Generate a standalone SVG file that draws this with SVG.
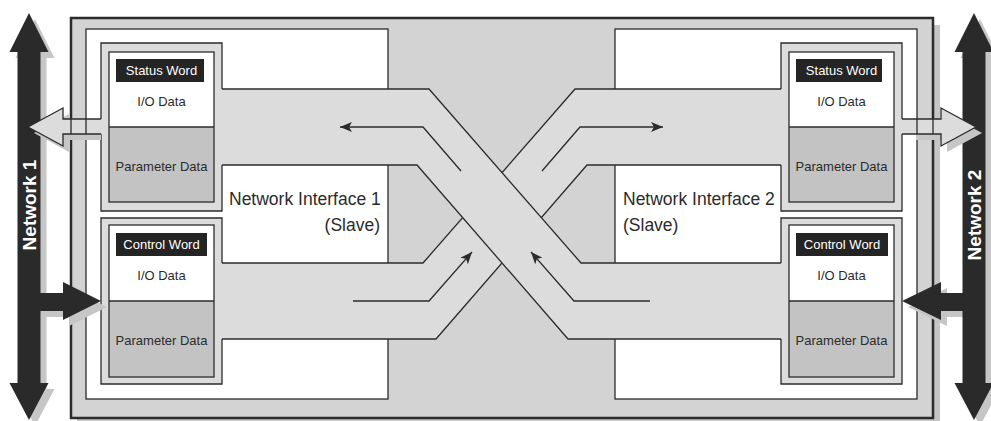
<svg xmlns="http://www.w3.org/2000/svg" width="991" height="421" viewBox="0 0 991 421">
<style>
.ln{stroke:#2b2b2b;stroke-width:1.3;fill:none}
.ni{fill:#ffffff;stroke:#2b2b2b;stroke-width:1.3}
.frm{fill:#dcdcdd}
.band{fill:#dcdcdd}
.wht{fill:#ffffff}
.par{fill:#c3c3c3}
.lbl{fill:#242424}
.sh{fill:#c6c6c6}
.blk{fill:#2a2a2a}
.t{font-family:"Liberation Sans",Arial,sans-serif;fill:#2b2b2b}
.s{font-size:13px;text-anchor:middle}
.w{fill:#ffffff}
.big{font-size:17.5px}
.net{font-family:"Liberation Sans",Arial,sans-serif;font-size:19px;font-weight:bold;fill:#ffffff;text-anchor:middle}
</style>
<defs>
<marker id="ah" viewBox="0 0 12 10" refX="12" refY="5" markerWidth="12" markerHeight="10" markerUnits="userSpaceOnUse" orient="auto">
<path d="M0,0 L12,5 L0,10 L3,5 z" fill="#2b2b2b"/>
</marker>
</defs>
<rect width="991" height="421" fill="#ffffff"/>

<g id="device">
<rect x="77" y="25" width="863" height="401" class="sh"/>
<rect x="71" y="18" width="862" height="400" fill="#d3d3d4" stroke="#2b2b2b" stroke-width="2.5"/>
</g>

<g id="ni1">
<rect x="86" y="29" width="302" height="370" class="ni"/>
<text class="t big" x="229" y="205">Network Interface 1</text>
<text class="t big" x="380" y="231" text-anchor="end">(Slave)</text>
</g>
<g id="ni2">
<rect x="615" y="29" width="302" height="370" class="ni"/>
<text class="t big" x="623" y="205">Network Interface 2</text>
<text class="t big" x="623" y="231">(Slave)</text>
</g>

<g id="connectors">
<polygon class="band" points="222,263 423,263 575,89 781,89 781,165 587,165 436,339 222,339"/>
<polyline class="ln" points="222,263 423,263 575,89 781,89"/>
<polyline class="ln" points="222,339 436,339 587,165 781,165"/>
<polygon class="band" points="222,89 429,89 581,263 781,263 781,339 568,339 417,165 222,165"/>
<polyline class="ln" points="222,89 429,89 581,263 781,263"/>
<polyline class="ln" points="222,165 417,165 568,339 781,339"/>
<polyline class="ln" points="461,171 423,127 340,127" marker-end="url(#ah)"/>
<polyline class="ln" points="542,171 580,127 663,127" marker-end="url(#ah)"/>
<polyline class="ln" points="353,301 429,301 472,252" marker-end="url(#ah)"/>
<polyline class="ln" points="650,301 574,301 531,252" marker-end="url(#ah)"/>
</g>

<g id="box-tx1">
<rect x="101" y="43" width="121" height="168" class="frm"/>
<path class="ln" d="M222,89 V43 H101 V119 M101,134 V211 H222 V165"/>
<rect x="109" y="52" width="105" height="75" class="wht"/>
<rect x="109" y="127" width="105" height="75" class="par"/>
<rect x="109" y="52" width="105" height="150" class="ln"/>
<line x1="109" y1="127" x2="214" y2="127" class="ln"/>
<rect x="116" y="59" width="88" height="23" class="lbl"/>
<text class="t s w" x="161.5" y="75">Status Word</text>
<text class="t s" x="161.5" y="106">I/O Data</text>
<text class="t s" x="161.5" y="171">Parameter Data</text>
</g>

<g id="box-rx1">
<rect x="101" y="218" width="121" height="166" class="frm"/>
<path class="ln" d="M222,263 V218 H101 V384 H222 V339"/>
<rect x="109" y="225" width="105" height="76" class="wht"/>
<rect x="109" y="301" width="105" height="76" class="par"/>
<rect x="109" y="225" width="105" height="152" class="ln"/>
<line x1="109" y1="301" x2="214" y2="301" class="ln"/>
<rect x="116" y="233" width="91" height="23" class="lbl"/>
<text class="t s w" x="161.5" y="249">Control Word</text>
<text class="t s" x="161.5" y="280">I/O Data</text>
<text class="t s" x="161.5" y="345">Parameter Data</text>
</g>

<g id="box-tx2">
<rect x="781" y="43" width="121" height="168" class="frm"/>
<path class="ln" d="M781,89 V43 H902 V119 M902,134 V211 H781 V165"/>
<rect x="789" y="52" width="105" height="75" class="wht"/>
<rect x="789" y="127" width="105" height="75" class="par"/>
<rect x="789" y="52" width="105" height="150" class="ln"/>
<line x1="789" y1="127" x2="894" y2="127" class="ln"/>
<rect x="796" y="59" width="86" height="23" class="lbl"/>
<text class="t s w" x="841.5" y="75">Status Word</text>
<text class="t s" x="841.5" y="106">I/O Data</text>
<text class="t s" x="841.5" y="171">Parameter Data</text>
</g>

<g id="box-rx2">
<rect x="781" y="218" width="121" height="166" class="frm"/>
<path class="ln" d="M781,263 V218 H902 V384 H781 V339"/>
<rect x="789" y="225" width="105" height="76" class="wht"/>
<rect x="789" y="301" width="105" height="76" class="par"/>
<rect x="789" y="225" width="105" height="152" class="ln"/>
<line x1="789" y1="301" x2="894" y2="301" class="ln"/>
<rect x="796" y="233" width="92" height="23" class="lbl"/>
<text class="t s w" x="842" y="249">Control Word</text>
<text class="t s" x="841.5" y="280">I/O Data</text>
<text class="t s" x="841.5" y="345">Parameter Data</text>
</g>

<g id="network1">
<polygon class="sh" transform="translate(6,6)" points="29,13 48.5,52 40.5,52 40.5,383 48.5,383 29,420 9.5,383 17.5,383 17.5,52 9.5,52"/>
<polygon class="sh" transform="translate(6,6)" points="40,293 63,293 63,282 101,301 63,320 63,311 40,311"/>
<polygon class="blk" points="29,13 48.5,52 40.5,52 40.5,383 48.5,383 29,420 9.5,383 17.5,383 17.5,52 9.5,52"/>
<polygon class="blk" points="40,293 63,293 63,282 101,301 63,320 63,311 40,311"/>
<polygon class="sh" transform="translate(6,6)" points="28,127 63,108 63,119 95,119 95,134 63,134 63,146"/>
<polygon class="band" points="28,127 63,108 63,119 102,119 102,134 63,134 63,146"/>
<path class="ln" d="M101,119 H63 V108 L28,127 L63,146 V134 H101"/>
<path class="ln" d="M71,119 V134 M86,119 V134" stroke-width="1.3"/>
<text class="net" transform="translate(35.8,205) rotate(-90)">Network 1</text>
</g>

<g id="network2">
<polygon class="sh" transform="translate(6,6)" points="974,13 993.5,52 985.5,52 985.5,383 993.5,383 974,420 954.5,383 962.5,383 962.5,52 954.5,52"/>
<polygon class="sh" transform="translate(6,6)" points="963,293 941,293 941,282 902,301 941,320 941,311 963,311"/>
<polygon class="blk" points="974,13 993.5,52 985.5,52 985.5,383 993.5,383 974,420 954.5,383 962.5,383 962.5,52 954.5,52"/>
<polygon class="blk" points="963,293 941,293 941,282 902,301 941,320 941,311 963,311"/>
<polygon class="sh" transform="translate(6,6)" points="976,127 941,108 941,119 910,119 910,134 941,134 941,146"/>
<polygon class="band" points="976,127 941,108 941,119 901,119 901,134 941,134 941,146"/>
<path class="ln" d="M902,119 H941 V108 L976,127 L941,146 V134 H902"/>
<path class="ln" d="M933,119 V134 M917,119 V134"/>
<text class="net" transform="translate(980.8,215) rotate(-90)">Network 2</text>
</g>
</svg>
